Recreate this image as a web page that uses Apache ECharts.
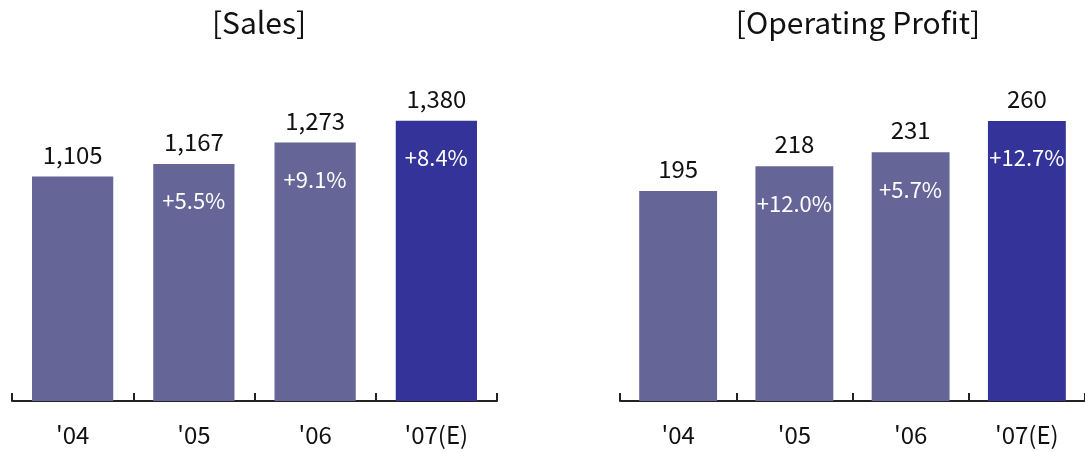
<!DOCTYPE html>
<html>
<head>
<meta charset="utf-8">
<script src="https://cdn.jsdelivr.net/npm/echarts@6/dist/echarts.min.js"></script>
<style>
html,body{margin:0;padding:0;background:#fff;}
#c{width:1085px;height:452px;}
</style>
</head>
<body>
<div id="c"></div>
<script>
const categories = ["'04", "'05", "'06", "'07(E)"];
const salesValues = [1105, 1167, 1273, 1380];
const salesGrowth = [null, 5.5, 9.1, 8.4];
const profitValues = [195, 218, 231, 260];
const profitGrowth = [null, 12.0, 5.7, 12.7];
const titles = ['[Sales]', '[Operating Profit]'];

const FONT = '"Noto Sans CJK KR", "Noto Sans", sans-serif';
const LIGHT = '#656598';
const DARK = '#333399';

function fmtNum(v) { return v.toLocaleString('en-US'); }
function fmtGrowth(g) { return g == null ? '' : '+' + g.toFixed(1) + '%'; }

function colorFn(p) { return p.dataIndex === categories.length - 1 ? DARK : LIGHT; }

function xAxisCfg(idx) {
  return {
    type: 'category', gridIndex: idx, data: categories,
    axisLine: { show: true, lineStyle: { color: '#222', width: 2 } },
    axisTick: { show: true, inside: true, length: 8, interval: 0, lineStyle: { color: '#222', width: 2 } },
    axisLabel: { color: '#111', fontSize: 24, fontFamily: FONT, margin: 22 }
  };
}
function yAxisCfg(idx, max) {
  return { type: 'value', gridIndex: idx, min: 0, max: max, show: false, splitLine: { show: false } };
}
function seriesPair(idx, values, growth) {
  return [
    {
      type: 'bar', xAxisIndex: idx, yAxisIndex: idx, data: values, barWidth: '67%',
      itemStyle: { color: colorFn },
      label: { show: true, position: 'top', distance: 10, color: '#111', fontSize: 24, fontFamily: FONT,
        formatter: p => fmtNum(p.value) },
      silent: true
    },
    {
      type: 'bar', xAxisIndex: idx, yAxisIndex: idx, data: values, barWidth: '67%', barGap: '-100%',
      itemStyle: { color: 'rgba(0,0,0,0)' },
      label: { show: true, position: 'insideTop', distance: 26, color: '#fff', fontSize: 22, fontFamily: FONT,
        formatter: p => fmtGrowth(growth[p.dataIndex]) },
      silent: true, z: 3
    }
  ];
}

const chart = echarts.init(document.getElementById('c'), null, { renderer: 'canvas' });
chart.setOption({
  animation: false,
  title: [
    { text: titles[0], left: 254, top: 3, textAlign: 'center',
      textStyle: { fontSize: 30, fontWeight: 'normal', color: '#111', fontFamily: FONT } },
    { text: titles[1], left: 853, top: 3, textAlign: 'center',
      textStyle: { fontSize: 30, fontWeight: 'normal', color: '#111', fontFamily: FONT } }
  ],
  grid: [
    { left: 12, width: 485, top: 76, bottom: 51, containLabel: false },
    { left: 620, width: 468, top: 78, bottom: 51, containLabel: false }
  ],
  xAxis: [xAxisCfg(0), xAxisCfg(1)],
  yAxis: [yAxisCfg(0, 1600), yAxisCfg(1, 300)],
  series: [].concat(seriesPair(0, salesValues, salesGrowth), seriesPair(1, profitValues, profitGrowth))
});
</script>
</body>
</html>
